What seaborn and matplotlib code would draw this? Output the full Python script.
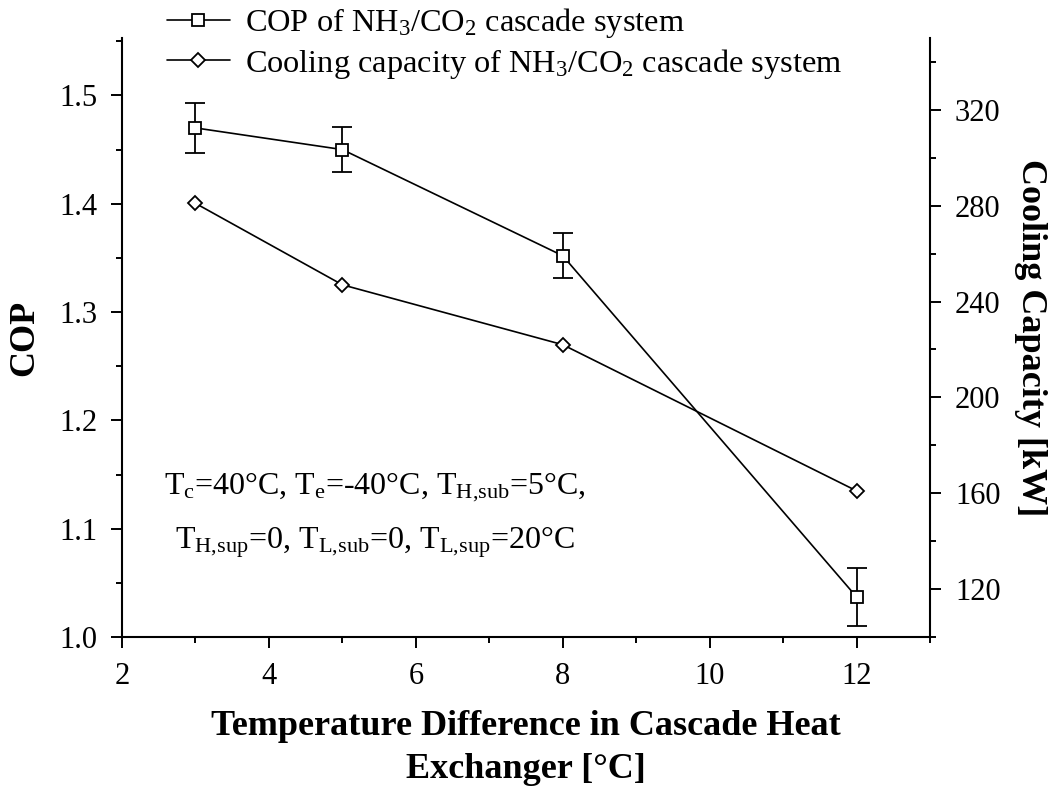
import matplotlib
matplotlib.use('Agg')
import matplotlib.pyplot as plt
import seaborn as sns
import pandas as pd
from matplotlib.ticker import MultipleLocator

# ---- data ----
temp_diff = [3, 5, 8, 12]
cop = [1.47, 1.45, 1.352, 1.037]
cop_err = [0.023, 0.021, 0.021, 0.027]
cooling = [281, 247, 222, 161]

cop_label = 'COP of NH$_3$/CO$_2$ cascade system'
cool_label = 'Cooling capacity of NH$_3$/CO$_2$ cascade system'
x_label = 'Temperature Difference in Cascade Heat\nExchanger [°C]'
y_label = 'COP'
y2_label = 'Cooling Capacity [kW]'
note = ('T$_c$=40°C, T$_e$=-40°C, T$_{H{,}sub}$=5°C,\n'
        'T$_{H{,}sup}$=0, T$_{L{,}sub}$=0, T$_{L{,}sup}$=20°C')

sns.set_theme(style='ticks')
plt.rcParams['font.family'] = ['Liberation Serif', 'DejaVu Serif']
plt.rcParams['mathtext.fontset'] = 'custom'
plt.rcParams['mathtext.rm'] = 'Liberation Serif'
plt.rcParams['mathtext.it'] = 'Liberation Serif:italic'
plt.rcParams['mathtext.bf'] = 'Liberation Serif:bold'
plt.rcParams['mathtext.default'] = 'regular'
for k in ['text.color', 'axes.labelcolor', 'xtick.color', 'ytick.color', 'axes.edgecolor']:
    plt.rcParams[k] = 'black'

df = pd.DataFrame({'x': temp_diff, 'cop': cop, 'cool': cooling})

fig = plt.figure(figsize=(10.62, 7.87), dpi=100)
ax = fig.add_axes([0.1149, 0.1906, 0.7608, 0.7611])
ax2 = ax.twinx()

ax.errorbar(temp_diff, cop, yerr=cop_err, fmt='none', ecolor='black',
            elinewidth=1.3, capsize=7, capthick=1.3, zorder=1)
sns.lineplot(data=df, x='x', y='cop', ax=ax, color='black', lw=1.2,
             marker='s', ms=8, mfc='white', mec='black', mew=1.3,
             label=cop_label, zorder=3)
sns.lineplot(data=df, x='x', y='cool', ax=ax2, color='black', lw=1.2,
             marker='D', ms=7, mfc='white', mec='black', mew=1.3,
             label=cool_label, zorder=3)

ax.set_xlim(2, 13)
ax.set_ylim(1.0, 1.553)
ax2.set_ylim(100, 350)
ax.xaxis.set_major_locator(MultipleLocator(2))
ax.xaxis.set_minor_locator(MultipleLocator(1))
ax.yaxis.set_major_locator(MultipleLocator(0.1))
ax.yaxis.set_minor_locator(MultipleLocator(0.05))
ax2.yaxis.set_major_locator(MultipleLocator(40))
ax2.yaxis.set_minor_locator(MultipleLocator(20))

for a in (ax, ax2):
    a.tick_params(which='major', direction='out', length=8, width=1.4,
                  labelsize=22, pad=10)
    a.tick_params(which='minor', direction='out', length=4, width=1.4)
    for s in a.spines.values():
        s.set_linewidth(1.5)
ax.spines['top'].set_visible(False)
ax.spines['right'].set_visible(False)
ax2.spines['top'].set_visible(False)
ax2.spines['left'].set_visible(False)
ax2.spines['bottom'].set_visible(False)

ax.set_xlabel(x_label, fontsize=26, fontweight='bold', ha='center', va='center', linespacing=1.4)
ax.xaxis.set_label_coords(0.5, -0.185)
ax.set_ylabel(y_label, fontsize=26, fontweight='bold', ha='center', va='center')
ax.yaxis.set_label_coords(-0.121, 0.5)
ax2.set_ylabel(y2_label, fontsize=26, fontweight='bold', rotation=270, ha='center', va='center')
ax2.yaxis.set_label_coords(1.125, 0.5)

ax.text(5.44, 1.112, note, ha='center', va='center', fontsize=23, linespacing=1.85)

h1, l1 = ax.get_legend_handles_labels()
h2, l2 = ax2.get_legend_handles_labels()
if ax.get_legend():
    ax.get_legend().remove()
if ax2.get_legend():
    ax2.get_legend().remove()
fig.legend(h1 + h2, l1 + l2, loc='upper left', bbox_to_anchor=(0.157, 0.992),
           frameon=False, fontsize=23.3, handlelength=1.95, handletextpad=0.46,
           labelspacing=0.2, borderaxespad=0, borderpad=0)

fig.savefig('out.png', dpi=100)
